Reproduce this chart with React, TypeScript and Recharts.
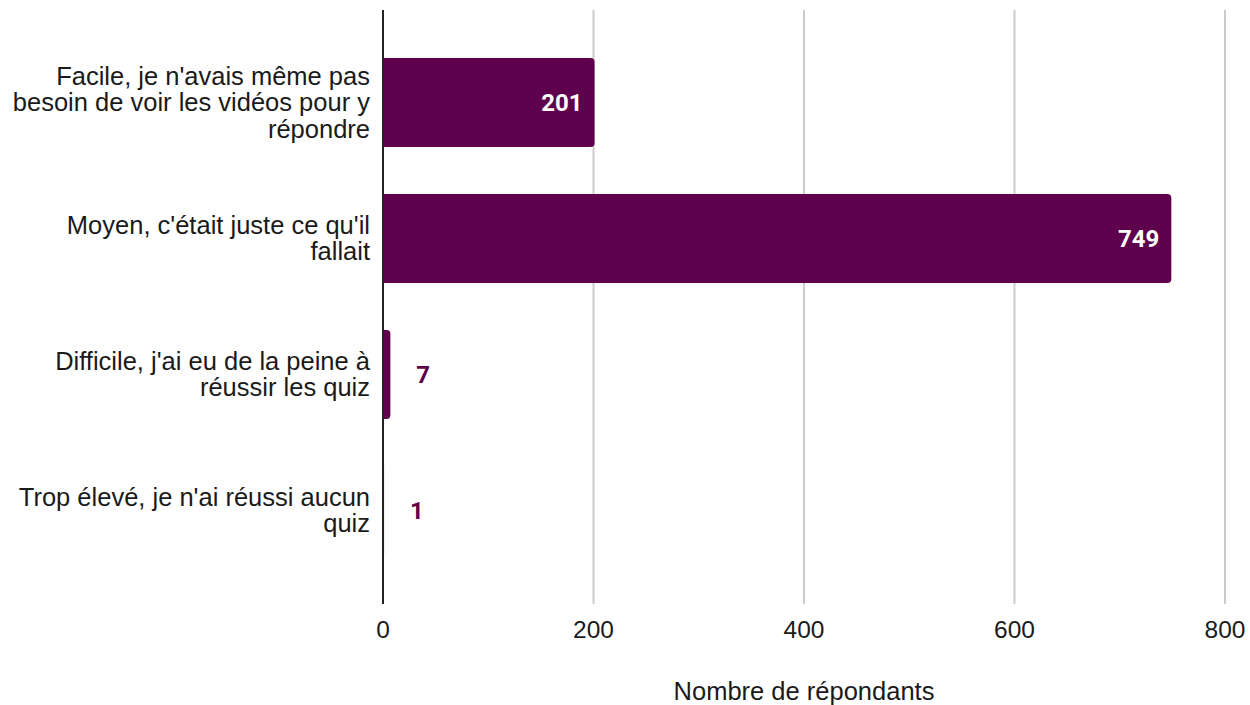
import * as React from 'react';
import { BarChart, Bar, XAxis, YAxis, CartesianGrid, LabelList, Label } from 'recharts';

// answers, already split into the lines shown on the axis
const categoryLines = [
    ["Facile, je n'avais même pas", "besoin de voir les vidéos pour y", "répondre"],
    ["Moyen, c'était juste ce qu'il", "fallait"],
    ["Difficile, j'ai eu de la peine à", "réussir les quiz"],
    ["Trop élevé, je n'ai réussi aucun", "quiz"],
];
const categories = categoryLines.map(l => l.join(' '));
const respondents = [201, 749, 7, 1];
const xTicks = [0, 200, 400, 600, 800];
const xTitle = "Nombre de répondants";

const PURPLE = '#5e004b';
const FONT = '"Liberation Sans", Arial, sans-serif';

const data = categories.map((c, i) => ({ name: c, value: respondents[i] }));

function CategoryTick(props: any) {
    const { x, y, index } = props;
    const lines = categoryLines[index] ?? [props.payload.value];
    const lineH = 26.5;
    return (
        <text x={x} y={y} textAnchor="end" fontSize={25.5} fontFamily={FONT} fill="#1a1a1a">
            {lines.map((l, i) =>
                <tspan key={i} x={x} y={y + (i - (lines.length - 1) / 2) * lineH + 9}>{l}</tspan>)}
        </text>
    );
}

function ValueLabel(props: any) {
    const { x, y, width, height, value } = props;
    const inside = value >= 100;
    return (
        <text
            x={inside ? x + width - 12 : x + width + 26}
            y={y + height / 2 + 8}
            textAnchor={inside ? 'end' : 'start'}
            fontSize={24}
            fontWeight={700}
            fontFamily="Roboto, sans-serif"
            fill={inside ? '#fff' : PURPLE}>
            {value}
        </text>
    );
}

export default function App() {
    return (
        <div style={{ position: 'absolute', left: 0, top: 0 }}>
            <BarChart
                width={1250}
                height={705}
                data={data}
                layout="vertical"
                margin={{ top: 10, right: 25, left: 0, bottom: 0 }}>
                <CartesianGrid horizontal={false} stroke="#cccccc" strokeWidth={2} />
                <XAxis
                    type="number"
                    domain={[0, 800]}
                    ticks={xTicks}
                    axisLine={false}
                    tickLine={false}
                    tickMargin={11}
                    height={101}
                    tick={{ fontSize: 24.5, fontFamily: FONT, fill: '#1a1a1a' }}>
                    <Label value={xTitle} position="insideBottom" offset={5}
                        fontSize={25.5} fontFamily={FONT} fill="#1a1a1a" />
                </XAxis>
                <YAxis
                    type="category"
                    dataKey="name"
                    width={383}
                    padding={{ top: 24, bottom: 26 }}
                    tickLine={false}
                    tickMargin={7}
                    axisLine={{ stroke: '#222', strokeWidth: 2 }}
                    tick={<CategoryTick />} />
                <Bar dataKey="value" fill={PURPLE} barSize={89} radius={[0, 4, 4, 0]} isAnimationActive={false}>
                    <LabelList dataKey="value" content={<ValueLabel />} />
                </Bar>
            </BarChart>
        </div>
    );
}
